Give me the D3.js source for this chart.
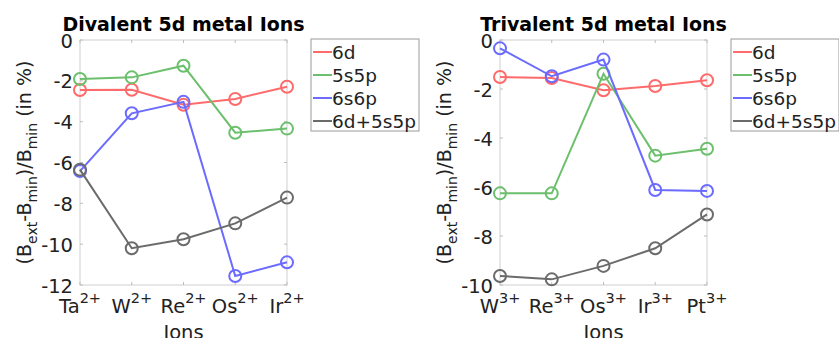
<!DOCTYPE html>
<html>
<head>
<meta charset="utf-8">
<script src="https://cdn.jsdelivr.net/npm/d3@7"></script>
<style>
  html, body { margin: 0; padding: 0; background: #fff; overflow: hidden; }
  svg { display: block; font-family: "DejaVu Sans", sans-serif; }
</style>
</head>
<body>
<div id="chart"></div>
<script>
// Data
var seriesNames = ['6d', '5s5p', '6s6p', '6d+5s5p'];
var seriesColors = ['#ff6b6b', '#6cbf6c', '#6b6bff', '#6b6b6b'];

var divalentIons = ['Ta', 'W', 'Re', 'Os', 'Ir'];
var divalentCharge = '2+';
var divalent6d = [-2.45, -2.44, -3.17, -2.89, -2.29];
var divalent5s5p = [-1.91, -1.83, -1.26, -4.54, -4.34];
var divalent6s6p = [-6.42, -3.59, -3.03, -11.56, -10.89];
var divalentBoth = [-6.35, -10.20, -9.76, -8.98, -7.72];
var divalentTicks = [0, -2, -4, -6, -8, -10, -12];

var trivalentIons = ['W', 'Re', 'Os', 'Ir', 'Pt'];
var trivalentCharge = '3+';
var trivalent6d = [-1.51, -1.55, -2.05, -1.88, -1.64];
var trivalent5s5p = [-6.26, -6.26, -1.38, -4.72, -4.44];
var trivalent6s6p = [-0.34, -1.48, -0.80, -6.12, -6.16];
var trivalentBoth = [-9.63, -9.77, -9.22, -8.50, -7.12];
var trivalentTicks = [0, -2, -4, -6, -8, -10];

var W = 839, H = 338;
var svg = d3.select('#chart').append('svg')
    .attr('width', W)
    .attr('height', H);

function drawPanel(offsetX, title, ions, charge, values, ticks) {
    var left = offsetX + 80, right = offsetX + 287;
    var top = 40, bottom = 285;
    var g = svg.append('g');

    var x = d3.scalePoint().domain(ions).range([left, right]);
    var y = d3.scaleLinear().domain([d3.min(ticks), 0]).range([bottom, top]);

    // axis box
    g.append('rect')
        .attr('x', left).attr('y', top)
        .attr('width', right - left).attr('height', bottom - top)
        .attr('fill', 'none')
        .attr('stroke', '#cfcfcf')
        .attr('stroke-width', 1);

    // x ticks (inside, top and bottom)
    ions.forEach(function(d) {
        g.append('line').attr('x1', x(d)).attr('x2', x(d))
            .attr('y1', bottom).attr('y2', bottom - 3)
            .attr('stroke', '#bdbdbd');
        g.append('line').attr('x1', x(d)).attr('x2', x(d))
            .attr('y1', top).attr('y2', top + 3)
            .attr('stroke', '#bdbdbd');
        var t = g.append('text')
            .attr('x', x(d))
            .attr('y', 313)
            .attr('text-anchor', 'middle')
            .attr('font-size', 19.5)
            .attr('fill', '#222');
        t.append('tspan').text(d);
        t.append('tspan').attr('dy', -10).attr('font-size', 14.5).text(charge);
    });

    // y ticks
    ticks.forEach(function(v) {
        g.append('line').attr('x1', left).attr('x2', left + 3)
            .attr('y1', y(v)).attr('y2', y(v))
            .attr('stroke', '#bdbdbd');
        g.append('line').attr('x1', right).attr('x2', right - 3)
            .attr('y1', y(v)).attr('y2', y(v))
            .attr('stroke', '#bdbdbd');
        g.append('text')
            .attr('x', left - 7)
            .attr('y', y(v) + 7.5)
            .attr('text-anchor', 'end')
            .attr('font-size', 19.5)
            .attr('fill', '#222')
            .text(v === 0 ? '0' : '-' + Math.abs(v));
    });

    // title
    g.append('text')
        .attr('x', (left + right) / 2)
        .attr('y', 31)
        .attr('text-anchor', 'middle')
        .attr('font-size', 19)
        .attr('font-weight', 'bold')
        .attr('fill', '#000')
        .text(title);

    // x label
    g.append('text')
        .attr('x', (left + right) / 2)
        .attr('y', 339)
        .attr('text-anchor', 'middle')
        .attr('font-size', 19.5)
        .attr('fill', '#222')
        .text('Ions');

    // y label
    var yl = g.append('text')
        .attr('transform', 'translate(' + (offsetX + 31) + ',' + ((top + bottom) / 2) + ') rotate(-90)')
        .attr('text-anchor', 'middle')
        .attr('font-size', 19)
        .attr('fill', '#222');
    yl.append('tspan').text('(B');
    yl.append('tspan').attr('dy', 6).attr('font-size', 14).text('ext');
    yl.append('tspan').attr('dy', -6).text('-B');
    yl.append('tspan').attr('dy', 6).attr('font-size', 14).text('min');
    yl.append('tspan').attr('dy', -6).text(')/B');
    yl.append('tspan').attr('dy', 6).attr('font-size', 14).text('min');
    yl.append('tspan').attr('dy', -6).text(' (in %)');

    // series
    var line = d3.line()
        .x(function(d, i) { return x(ions[i]); })
        .y(function(d) { return y(d); });

    values.forEach(function(vals, s) {
        g.append('path')
            .datum(vals)
            .attr('fill', 'none')
            .attr('stroke', seriesColors[s])
            .attr('stroke-width', 2)
            .attr('d', line);
        g.selectAll('.pt' + s)
            .data(vals)
            .enter()
            .append('circle')
            .attr('cx', function(d, i) { return x(ions[i]); })
            .attr('cy', function(d) { return y(d); })
            .attr('r', 6)
            .attr('fill', 'none')
            .attr('stroke', seriesColors[s])
            .attr('stroke-width', 2);
    });

    // legend
    var lx = offsetX + 311, ly = 39;
    g.append('rect')
        .attr('x', lx).attr('y', ly)
        .attr('width', 108).attr('height', 92)
        .attr('fill', '#fff')
        .attr('stroke', '#9a9a9a')
        .attr('stroke-width', 1);
    seriesNames.forEach(function(name, s) {
        var ry = 52 + s * 23;
        g.append('line')
            .attr('x1', lx + 2).attr('x2', lx + 21)
            .attr('y1', ry).attr('y2', ry)
            .attr('stroke', seriesColors[s])
            .attr('stroke-width', 2);
        g.append('text')
            .attr('x', lx + 21)
            .attr('y', ry + 7)
            .attr('font-size', 18.5)
            .attr('fill', '#222')
            .text(name);
    });
}

drawPanel(0, 'Divalent 5d metal Ions', divalentIons, divalentCharge,
    [divalent6d, divalent5s5p, divalent6s6p, divalentBoth], divalentTicks);
drawPanel(420, 'Trivalent 5d metal Ions', trivalentIons, trivalentCharge,
    [trivalent6d, trivalent5s5p, trivalent6s6p, trivalentBoth], trivalentTicks);
</script>
</body>
</html>
